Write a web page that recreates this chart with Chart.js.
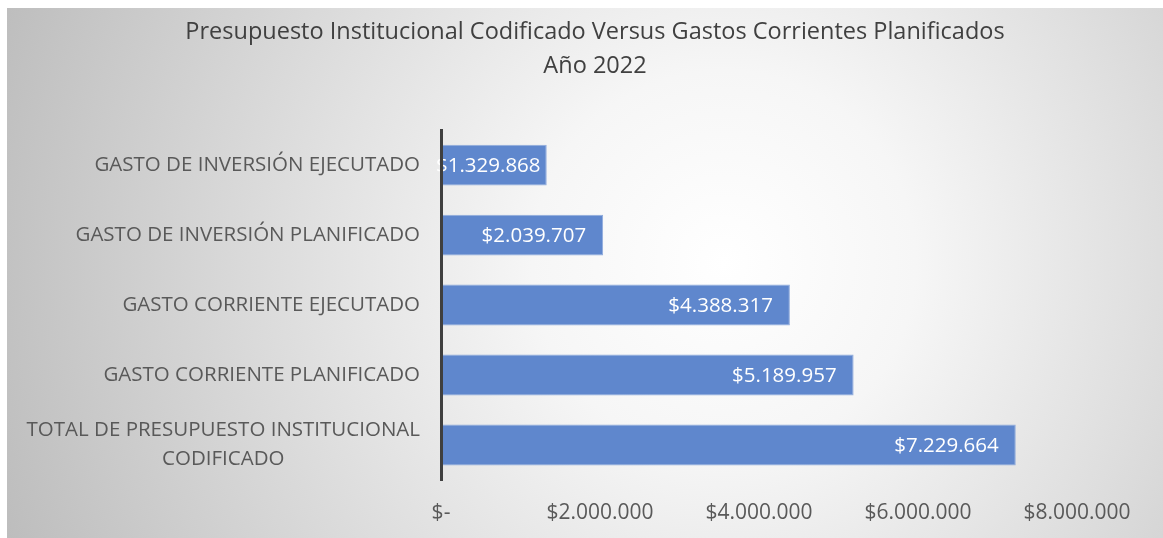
<!DOCTYPE html>
<html>
<head>
<meta charset="utf-8">
<script src="https://cdn.jsdelivr.net/npm/chart.js@4"></script>
<style>
    html, body { margin: 0; padding: 0; background: #ffffff; }
    #frame {
        position: absolute; left: 7px; top: 8px; width: 1156px; height: 530px;
        background: radial-gradient(circle farthest-corner at 62% 48%, #ffffff 0%, #f6f6f6 25%, #bdbdbd 100%);
    }
    #chart { display: block; }
</style>
</head>
<body>
<div id="frame"><canvas id="chart" width="1156" height="530"></canvas></div>
<script>
// Chart data
const categories = [
    'GASTO DE INVERSIÓN EJECUTADO',
    'GASTO DE INVERSIÓN PLANIFICADO',
    'GASTO CORRIENTE EJECUTADO',
    'GASTO CORRIENTE PLANIFICADO',
    ['TOTAL DE PRESUPUESTO INSTITUCIONAL', 'CODIFICADO']
];
const amounts = [1329868, 2039707, 4388317, 5189957, 7229664];
const xTicks = [0, 2000000, 4000000, 6000000, 8000000];
const titleLines = ['Presupuesto Institucional Codificado Versus Gastos Corrientes Planificados', 'Año 2022'];

const FONT = "'Open Sans', sans-serif";

// Format like Excel accounting: $7.229.664 / $-
function money(v) {
    if (v === 0) return '$-';
    return '$' + Math.round(v).toString().replace(/\B(?=(\d{3})+(?!\d))/g, '.');
}

// Category labels drawn by hand: right-aligned block, lines centred inside it
const categoryLabels = {
    id: 'categoryLabels',
    afterDraw(chart) {
        const ctx = chart.ctx;
        const yScale = chart.scales.y;
        const right = chart.chartArea.left - 21;
        const lineGap = 29;
        ctx.save();
        ctx.font = '20.5px ' + FONT;
        ctx.fillStyle = '#595959';
        ctx.textBaseline = 'middle';
        ctx.textAlign = 'center';
        categories.forEach((cat, i) => {
            const lines = Array.isArray(cat) ? cat : [cat];
            const y = yScale.getPixelForValue(i);
            const widest = Math.max(...lines.map(l => ctx.measureText(l).width));
            const startY = y - (lines.length - 1) * lineGap / 2;
            lines.forEach((line, j) => {
                ctx.fillText(line, right - widest / 2, startY + j * lineGap);
            });
        });
        ctx.restore();
    }
};

// Value labels inside the end of each bar
const valueLabels = {
    id: 'valueLabels',
    afterDatasetsDraw(chart) {
        const ctx = chart.ctx;
        const meta = chart.getDatasetMeta(0);
        const base = chart.scales.x.getPixelForValue(0);
        ctx.save();
        ctx.font = '20.5px ' + FONT;
        ctx.fillStyle = '#ffffff';
        ctx.textBaseline = 'middle';
        ctx.textAlign = 'left';
        meta.data.forEach((bar, i) => {
            const text = money(amounts[i]);
            const w = ctx.measureText(text).width;
            const left = Math.max(bar.x - 17 - w, base - 5);
            ctx.fillText(text, left, bar.y + 1);
        });
        ctx.restore();
    }
};

new Chart(document.getElementById('chart'), {
    type: 'bar',
    data: {
        labels: categories,
        datasets: [{
            data: amounts,
            backgroundColor: '#5f87cd',
            borderColor: '#8eaadc',
            borderWidth: 1,
            borderSkipped: false,
            categoryPercentage: 1,
            barPercentage: 0.585
        }]
    },
    options: {
        indexAxis: 'y',
        responsive: false,
        animation: false,
        layout: { padding: { left: 106, right: 86, top: 0, bottom: 14 } },
        plugins: {
            legend: { display: false },
            tooltip: { enabled: false },
            title: {
                display: true,
                text: titleLines,
                color: '#404040',
                font: { family: FONT, size: 23.5, weight: 'normal', lineHeight: 1.45 },
                padding: { top: 7, bottom: 47 }
            }
        },
        scales: {
            x: {
                min: 0,
                max: 8000000,
                afterBuildTicks: scale => { scale.ticks = xTicks.map(v => ({ value: v })); },
                afterFit: scale => { scale.height = 44; },
                grid: { display: false, drawTicks: false },
                border: { display: false },
                ticks: {
                    color: '#595959',
                    font: { family: FONT, size: 21 },
                    padding: 20,
                    maxRotation: 0,
                    callback: v => money(v)
                }
            },
            y: {
                grid: { display: false, drawTicks: false },
                border: { display: true, color: '#3f3f3f', width: 3, z: 1 },
                ticks: { display: false },
                afterFit: scale => { scale.width = 328; }
            }
        }
    },
    plugins: [valueLabels, categoryLabels]
});
</script>
</body>
</html>
